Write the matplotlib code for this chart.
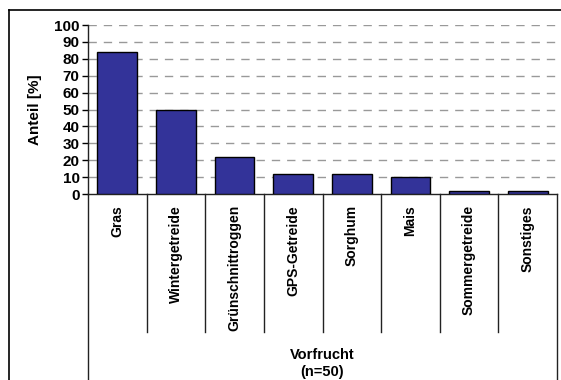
import numpy as np
import matplotlib.pyplot as plt
from matplotlib.lines import Line2D
import matplotlib.transforms as mtransforms

# Vorfrucht shares (n=50)
categories = ["Gras", "Wintergetreide", "Grünschnittroggen", "GPS-Getreide",
              "Sorghum", "Mais", "Sommergetreide", "Sonstiges"]
anteil = [84, 50, 22, 12, 12, 10, 2, 2]
yticks = list(range(0, 101, 10))

plt.rcParams['font.family'] = ['Liberation Sans', 'DejaVu Sans']
plt.rcParams['font.weight'] = 'bold'

W, H = 561, 380
fig = plt.figure(figsize=(W / 100, H / 100), dpi=100)

# plot area in pixels: x 88..557, y 25..194
x0, x1, y0, y1 = 88, 557, 25, 194
ax = fig.add_axes([x0 / W, 1 - y1 / H, (x1 - x0) / W, (y1 - y0) / H])

x = np.arange(len(categories))
ax.bar(x, anteil, width=0.68, color='#333399', edgecolor='black', linewidth=1, zorder=3)

ax.set_xlim(-0.5, len(categories) - 0.5)
ax.set_ylim(0, 100)
ax.set_yticks(yticks)
ax.tick_params(axis='y', direction='out', length=4, width=1, labelsize=11, pad=2)
ax.set_xticks([])
for t in ax.get_yticklabels():
    t.set_fontweight('bold')

for s in ['top', 'right']:
    ax.spines[s].set_visible(False)
for s in ['left', 'bottom']:
    ax.spines[s].set_color('#222222')
    ax.spines[s].set_linewidth(1)

# dashed gridlines
for v in yticks[1:]:
    ax.axhline(v, color='#999999', linewidth=1, linestyle=(0, (6, 5)), zorder=1)

ax.set_ylabel("Anteil [%]", fontsize=11, fontweight='bold', labelpad=9)

# category separators below the axis
trans = mtransforms.blended_transform_factory(ax.transData, ax.transAxes)
sep_bottom = -(332 - y1) / (y1 - y0)
frame_bottom = -(H - y1) / (y1 - y0)
for k in range(len(categories) + 1):
    bottom = frame_bottom if k in (0, len(categories)) else sep_bottom
    ax.plot([k - 0.5, k - 0.5], [0, bottom], color='#222222', linewidth=1,
            transform=trans, clip_on=False)

# rotated category labels
for xi, name in zip(x, categories):
    ax.text(xi, -11 / (y1 - y0), name, rotation=90, ha='center', va='top',
            fontsize=10, fontweight='bold', transform=trans)

fig.text(322 / W, 1 - 355 / H, "Vorfrucht", ha='center', va='center',
         fontsize=10.5, fontweight='bold')
fig.text(322 / W, 1 - 372 / H, "(n=50)", ha='center', va='center',
         fontsize=10.5, fontweight='bold')

# chart frame
fig.add_artist(Line2D([9 / W, 1], [1 - 10 / H, 1 - 10 / H], color='black', linewidth=1.2))
fig.add_artist(Line2D([9 / W, 9 / W], [1 - 10 / H, 0], color='black', linewidth=1.2))

fig.savefig("out.png", dpi=100)
